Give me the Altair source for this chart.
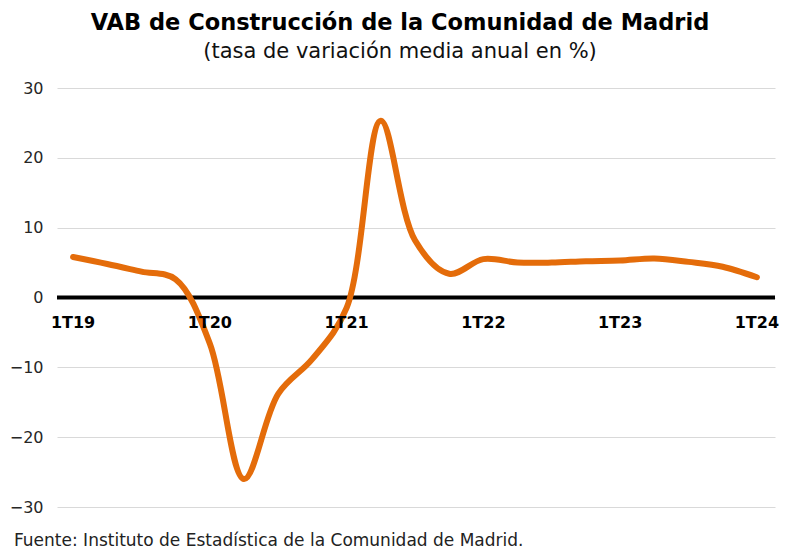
import altair as alt
import pandas as pd

quarters = ["1T19","2T19","3T19","4T19","1T20","2T20","3T20","4T20","1T21","2T21","3T21","4T21",
            "1T22","2T22","3T22","4T22","1T23","2T23","3T23","4T23","1T24"]
values = [5.8, 4.8, 3.7, 2.6, -6.6, -26.0, -13.8, -8.8, -1.5, 25.3, 8.2, 3.4,
          5.5, 5.0, 5.0, 5.2, 5.3, 5.6, 5.1, 4.4, 2.9]
tick_labels = ["1T19","1T20","1T21","1T22","1T23","1T24"]
tick_index = [0, 4, 8, 12, 16, 20]
y_ticks = [-30, -20, -10, 0, 10, 20, 30]

df = pd.DataFrame({"i": list(range(len(quarters))), "q": quarters, "v": values})
lab = pd.DataFrame({"i": tick_index, "t": tick_labels, "v": [0]*len(tick_index)})

W, H = 718, 419
FONT = "DejaVu Sans"

xs = alt.Scale(domain=[-0.47, 20.53], nice=False, zero=False)
ys = alt.Scale(domain=[-30, 30], nice=False)

base = alt.Chart(df)

line = base.mark_line(color="#E46C0A", strokeWidth=6, interpolate="catmull-rom", strokeCap="round").encode(
    x=alt.X("i:Q", scale=xs, axis=None),
    y=alt.Y("v:Q", scale=ys, axis=alt.Axis(values=y_ticks, grid=True, gridColor="#d9d9d9", gridWidth=1,
                                           domain=False, ticks=False, labelFont=FONT, labelFontSize=16,
                                           labelColor="#262626", labelPadding=14, title=None)),
)

zero = alt.Chart(pd.DataFrame({"z": [0]})).mark_rule(color="black", strokeWidth=4).encode(
    y=alt.Y("z:Q", scale=ys)
)

labels = alt.Chart(lab).mark_text(font=FONT, fontSize=16, fontWeight="bold", color="black", dy=25).encode(
    x=alt.X("i:Q", scale=xs),
    y=alt.Y("v:Q", scale=ys),
    text="t:N",
)

source = alt.Chart(pd.DataFrame({"s": ["Fuente: Instituto de Estadística de la Comunidad de Madrid."]})).mark_text(
    font=FONT, fontSize=17, align="left", baseline="middle", color="#222222"
).encode(x=alt.value(-43), y=alt.value(H + 34), text="s:N")

chart = alt.layer(zero, line, labels, source).properties(
    width=W, height=H,
    title=alt.TitleParams(
        text="VAB de Construcción de la Comunidad de Madrid",
        subtitle="(tasa de variación media anual en %)",
        font=FONT, fontSize=22.5, fontWeight="bold", color="black",
        subtitleFont=FONT, subtitleFontSize=21, subtitleColor="#111111",
        anchor="middle", frame="group", dx=-16, offset=18, subtitlePadding=7,
    ),
    autosize=alt.AutoSizeParams(type="none"),
    padding={"left": 49, "top": 80, "right": 4, "bottom": 48},
).configure(background="white", view=alt.ViewConfig(stroke="transparent", strokeWidth=0))

chart.save("out.html", embed_options={"renderer": "svg", "actions": False})
